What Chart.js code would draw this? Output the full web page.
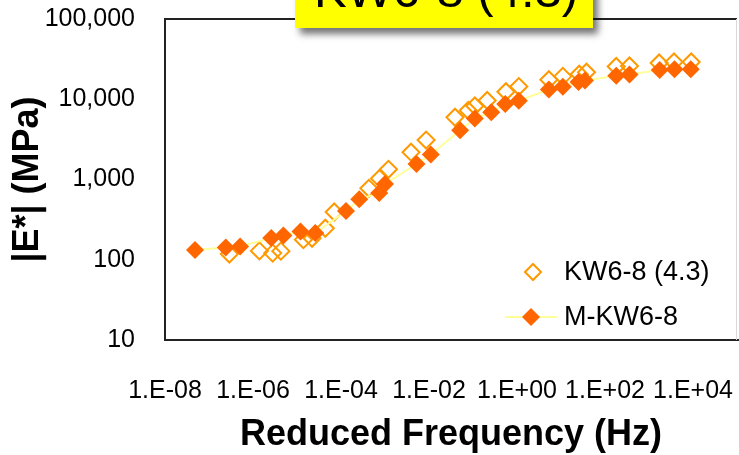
<!DOCTYPE html>
<html>
<head>
<meta charset="utf-8">
<script src="https://cdn.jsdelivr.net/npm/chart.js@4.4.0/dist/chart.umd.min.js"></script>
<style>
html, body { margin: 0; padding: 0; background: #fff; }
canvas { display: block; }
</style>
</head>
<body>
<canvas id="chart" width="739" height="455"></canvas>
<script>
// chart text
const chartTitle = 'KW6-8 (4.3)';
const seriesNames = ['KW6-8 (4.3)', 'M-KW6-8'];
const xTitle = 'Reduced Frequency (Hz)';
const yTitle = '|E*| (MPa)';

// measured data (open diamonds)
const kwFreq = [2.9e-7, 1.4e-6, 2.8e-6, 4.3e-6, 1.4e-5, 2.2e-5, 4.4e-5, 7.0e-5, 4.3e-4, 7.5e-4,
    1.2e-3, 3.9e-3, 8.6e-3, 3.9e-2, 7.8e-2, 0.11, 0.21, 0.56, 1.1, 5.3,
    11, 26, 38, 180, 360, 1700, 3700, 9100];
const kwModulus = [118, 129, 121, 128, 178, 185, 247, 394, 777, 1030,
    1340, 2190, 3100, 5960, 7240, 8240, 9650, 12400, 14400, 17500,
    19300, 20500, 21700, 25600, 26000, 28300, 29100, 29100];

// master curve (filled diamonds + line)
const mFreq = [4.8e-8, 2.4e-7, 5.1e-7, 2.6e-6, 4.9e-6, 1.2e-5, 2.6e-5, 1.3e-4, 2.6e-4, 7.4e-4,
    1.0e-3, 5.2e-3, 1.1e-2, 5.1e-2, 0.11, 0.26, 0.54, 1.1, 5.3, 11,
    25, 35, 180, 360, 1750, 3800, 8900];
const mModulus = [132, 142, 146, 187, 200, 225, 215, 405, 566, 680,
    880, 1560, 2050, 4100, 5750, 6900, 8700, 9600, 13200, 14300,
    16400, 17100, 19600, 20300, 23100, 23700, 23700];

// axis ticks
const xTickValues = [1e-8, 1e-6, 1e-4, 1e-2, 1e0, 1e2, 1e4];
const xTickLabels = ['1.E-08', '1.E-06', '1.E-04', '1.E-02', '1.E+00', '1.E+02', '1.E+04'];
const yTickValues = [10, 100, 1000, 10000, 100000];
const yTickLabels = ['10', '100', '1,000', '10,000', '100,000'];

const FONT = "'Liberation Sans', Arial, sans-serif";
Chart.defaults.font.family = FONT;
Chart.defaults.color = '#000';

function toPoints(xs, ys) {
    return xs.map((x, i) => ({ x: x, y: ys[i] }));
}

function diamond(ctx, x, y, r) {
    ctx.beginPath();
    ctx.moveTo(x, y - r);
    ctx.lineTo(x + r, y);
    ctx.lineTo(x, y + r);
    ctx.lineTo(x - r, y);
    ctx.closePath();
}

// plot frame: black on three sides, light grey on the right
const framePlugin = {
    id: 'frame',
    beforeDatasetsDraw(chart) {
        const { ctx, chartArea: a } = chart;
        ctx.save();
        ctx.strokeStyle = '#222';
        ctx.lineWidth = 2;
        ctx.beginPath();
        ctx.moveTo(a.right, a.top);
        ctx.lineTo(a.left, a.top);
        ctx.lineTo(a.left, a.bottom);
        ctx.lineTo(a.right + 2, a.bottom);
        ctx.stroke();
        ctx.strokeStyle = '#d9d9d9';
        ctx.lineWidth = 1;
        ctx.beginPath();
        ctx.moveTo(a.right - 0.5, a.top);
        ctx.lineTo(a.right - 0.5, a.bottom);
        ctx.stroke();
        ctx.restore();
    }
};

// legend drawn inside the plot, bottom right
const legendPlugin = {
    id: 'innerLegend',
    afterDatasetsDraw(chart) {
        const ctx = chart.ctx;
        ctx.save();
        ctx.font = '27px ' + FONT;
        ctx.fillStyle = '#000';
        ctx.textBaseline = 'middle';
        ctx.textAlign = 'left';

        diamond(ctx, 533, 272, 8);
        ctx.strokeStyle = '#FF9900';
        ctx.lineWidth = 2;
        ctx.stroke();
        ctx.fillText(seriesNames[0], 564, 273);

        ctx.strokeStyle = '#FFFF99';
        ctx.lineWidth = 2;
        ctx.beginPath();
        ctx.moveTo(505, 317);
        ctx.lineTo(557, 317);
        ctx.stroke();
        diamond(ctx, 531, 317, 9);
        ctx.fillStyle = '#FF6600';
        ctx.fill();
        ctx.fillStyle = '#000';
        ctx.fillText(seriesNames[1], 564, 318);
        ctx.restore();
    }
};

// yellow title box, cut by the top of the picture
const titlePlugin = {
    id: 'titleBox',
    afterDraw(chart) {
        const ctx = chart.ctx;
        ctx.save();
        ctx.shadowColor = 'rgba(0,0,0,0.55)';
        ctx.shadowBlur = 7;
        ctx.shadowOffsetX = 5;
        ctx.shadowOffsetY = 6;
        ctx.fillStyle = '#FFFF00';
        ctx.fillRect(295, -20, 298, 48);
        ctx.restore();
        ctx.save();
        ctx.font = '49px ' + FONT;
        ctx.fillStyle = '#000';
        ctx.textAlign = 'center';
        ctx.textBaseline = 'alphabetic';
        ctx.fillText(chartTitle, 446, 7);
        ctx.restore();
    }
};

new Chart(document.getElementById('chart'), {
    type: 'scatter',
    data: {
        datasets: [
            {
                label: seriesNames[0],
                data: toPoints(kwFreq, kwModulus),
                order: 1,
                showLine: false,
                pointStyle: 'rectRot',
                pointRadius: 8.5,
                pointBorderWidth: 2,
                pointBorderColor: '#FF9900',
                pointBackgroundColor: 'rgba(0,0,0,0)'
            },
            {
                label: seriesNames[1],
                data: toPoints(mFreq, mModulus),
                order: 0,
                showLine: true,
                borderColor: '#FFFF99',
                borderWidth: 2,
                pointStyle: 'rectRot',
                pointRadius: 9,
                pointBorderWidth: 0,
                pointBackgroundColor: '#FF6600'
            }
        ]
    },
    options: {
        responsive: false,
        devicePixelRatio: 1,
        animation: false,
        layout: { autoPadding: false, padding: { top: 19, right: 2, left: 0, bottom: 0 } },
        plugins: {
            legend: { display: false },
            tooltip: { enabled: false }
        },
        scales: {
            x: {
                type: 'logarithmic',
                min: 1e-8,
                max: 1e5,
                grid: { display: false, drawTicks: false },
                border: { display: false },
                afterBuildTicks(scale) {
                    scale.ticks = xTickValues.map(v => ({ value: v }));
                },
                afterFit(scale) {
                    scale.height = 115;
                    scale.paddingLeft = 0;
                    scale.paddingRight = 0;
                },
                ticks: {
                    autoSkip: false,
                    maxRotation: 0,
                    padding: 36,
                    font: { size: 25 },
                    callback: (v, i) => xTickLabels[i]
                },
                title: {
                    display: true,
                    text: xTitle,
                    font: { size: 36, weight: 'bold', lineHeight: 1 },
                    padding: { top: 0, bottom: 2 }
                }
            },
            y: {
                type: 'logarithmic',
                min: 10,
                max: 100000,
                grid: { display: false, drawTicks: false },
                border: { display: false },
                afterBuildTicks(scale) {
                    scale.ticks = yTickValues.map(v => ({ value: v }));
                },
                afterFit(scale) {
                    scale.width = 165;
                    scale.paddingTop = 0;
                    scale.paddingBottom = 0;
                },
                ticks: {
                    autoSkip: false,
                    padding: 30,
                    font: { size: 25 },
                    callback: (v, i) => yTickLabels[i]
                },
                title: {
                    display: true,
                    text: yTitle,
                    font: { size: 36, weight: 'bold', lineHeight: 1 },
                    padding: { top: 10, bottom: 0 }
                }
            }
        }
    },
    plugins: [framePlugin, legendPlugin, titlePlugin]
});
</script>
</body>
</html>
